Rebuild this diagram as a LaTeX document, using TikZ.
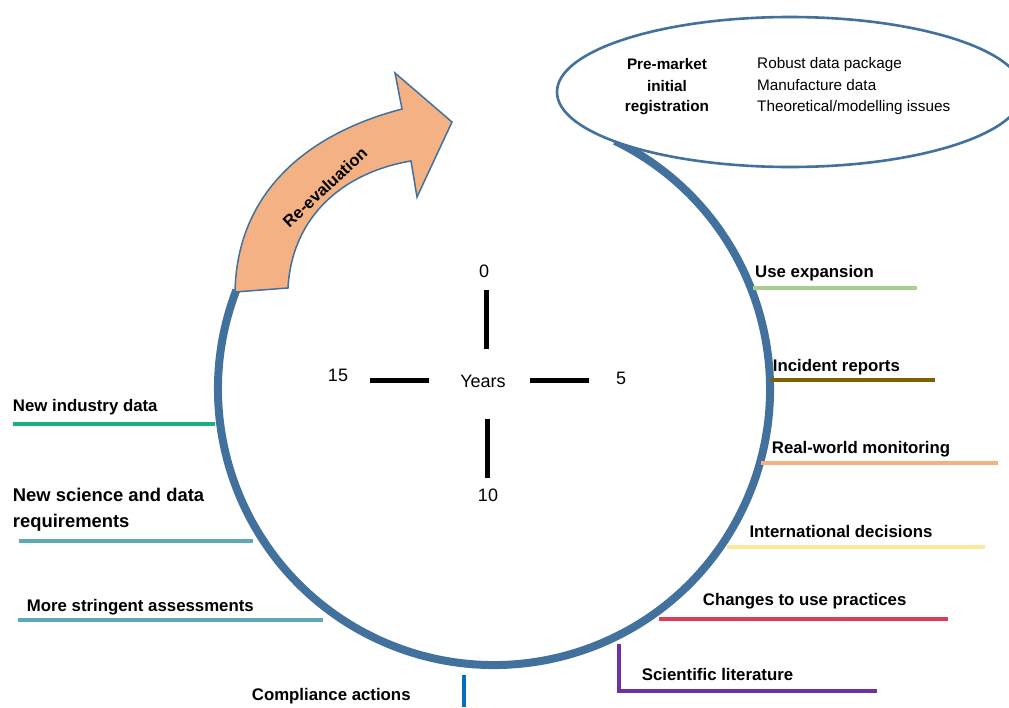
\documentclass[tikz,border=0pt]{standalone}
\usepackage{fontspec}
\setmainfont{Liberation Sans}
\usetikzlibrary{shapes.geometric,calc}
\definecolor{cycleblue}{HTML}{41719C}
\definecolor{arrowfill}{HTML}{F4B183}
\definecolor{cgreen}{HTML}{A9D18E}
\definecolor{cbrown}{HTML}{7F6000}
\definecolor{csalmon}{HTML}{F4B183}
\definecolor{cyellow}{HTML}{FFE699}
\definecolor{ccrimson}{HTML}{DD3C5A}
\definecolor{cpurple}{HTML}{7030A0}
\definecolor{cblue}{HTML}{0070C0}
\definecolor{cemerald}{HTML}{19B07A}
\definecolor{cteal}{HTML}{5DA9B5}
\begin{document}
\begin{tikzpicture}[x=1pt,y=-1pt,
  lbl/.style={inner sep=0pt, anchor=base west, font=\fontsize{16.8}{20}\selectfont\bfseries},
  biglbl/.style={inner sep=0pt, anchor=base west, font=\fontsize{18.4}{22}\selectfont\bfseries},
  ellb/.style={inner sep=0pt, anchor=base, font=\fontsize{15.3}{18}\selectfont\bfseries},
  ellr/.style={inner sep=0pt, anchor=base west, font=\fontsize{15.3}{18}\selectfont},
  yr/.style={inner sep=0pt, font=\fontsize{18}{21}\selectfont},
  uline/.style={line width=4pt},
  axis/.style={line width=4.7pt, black}]
\useasboundingbox (0,0) rectangle (1009,707);
\clip (0,0) rectangle (1009,707);

% cycle
\coordinate (c) at (494,389);
\draw[cycleblue, line width=8pt] ($(c)+(-64:276)$) arc[start angle=-64, end angle=201, radius=276];

% re-evaluation arrow
\coordinate (ob) at (235,292);
\coordinate (ib) at (288,288);
\coordinate (st) at (402,109);
\coordinate (bt) at (395,73);
\coordinate (tip) at (452,122);
\coordinate (bb) at (417,197);
\coordinate (sb) at (411,161);
\draw[cycleblue, line width=1.5pt, fill=arrowfill, line join=miter]
  (ob) .. controls (237,190) and (310,133) .. (st) -- (bt) -- (tip) -- (bb) -- (sb)
  .. controls (345,172) and (292,215) .. (ib) -- cycle;
\node[rotate=43, inner sep=0pt, font=\fontsize{16.5}{20}\selectfont\bfseries] (reeval) at (325,187) {Re-evaluation};

% ellipse
\node[ellipse, draw=cycleblue, line width=2.6pt, fill=white, minimum width=466pt, minimum height=150pt, inner sep=0pt] (pre) at (790,92) {};
\node[ellb] (pre1) at (667,69.3) {Pre-market};
\node[ellb] (pre2) at (667,91.3) {initial};
\node[ellb] (pre3) at (667,111.7) {registration};
\node[ellr] (r1) at (757,68.3) {Robust data package};
\node[ellr] (r2) at (757,90) {Manufacture data};
\node[ellr] (r3) at (757,111.7) {Theoretical/modelling issues};

% years axes
\node[yr] (years) at (483,381) {Years};
\node[yr] (y0) at (484,271) {0};
\node[yr] (y5) at (621,378) {5};
\node[yr] (y10) at (488,495) {10};
\node[yr] (y15) at (338,375) {15};
\draw[axis] (486.7,290) -- (486.7,349);
\draw[axis] (487.7,419) -- (487.7,478);
\draw[axis] (370,380.7) -- (429,380.7);
\draw[axis] (530,380.7) -- (589,380.7);

% right labels
\node[lbl] (useexp) at (755,277) {Use expansion};
\draw[uline, cgreen] (753,288) -- (917,288);
\node[lbl] (incid) at (772.7,371.7) {Incident reports};
\draw[uline, cbrown] (771,380) -- (935,380);
\node[lbl] (realw) at (771.7,453) {Real-world monitoring};
\draw[uline, csalmon] (761,463) -- (998,463);
\node[lbl] (intl) at (749.3,537) {International decisions};
\draw[uline, cyellow] (727,547) -- (985,547);
\node[lbl] (chg) at (702.7,605) {Changes to use practices};
\draw[uline, ccrimson] (659,619) -- (948,619);
\node[lbl] (sci) at (641.7,680.7) {Scientific literature};
\draw[uline, cpurple] (619,644) -- (619,690.5) -- (877,690.5);
\node[lbl] (comp) at (251.7,700) {Compliance actions};
\draw[uline, cblue] (464.3,675) -- (464.3,707);

% left labels
\node[lbl] (newind) at (12.7,411.7) {New industry data};
\draw[uline, cemerald] (12.7,424) -- (215,424);
\node[biglbl] (newsci1) at (12.7,501.7) {New science and data};
\node[biglbl] (newsci2) at (12.7,527.7) {requirements};
\draw[uline, cteal] (19,541.3) -- (253,541.3);
\node[lbl] (more) at (26.7,611) {More stringent assessments};
\draw[uline, cteal] (18,620) -- (323,620);
\end{tikzpicture}
\end{document}
